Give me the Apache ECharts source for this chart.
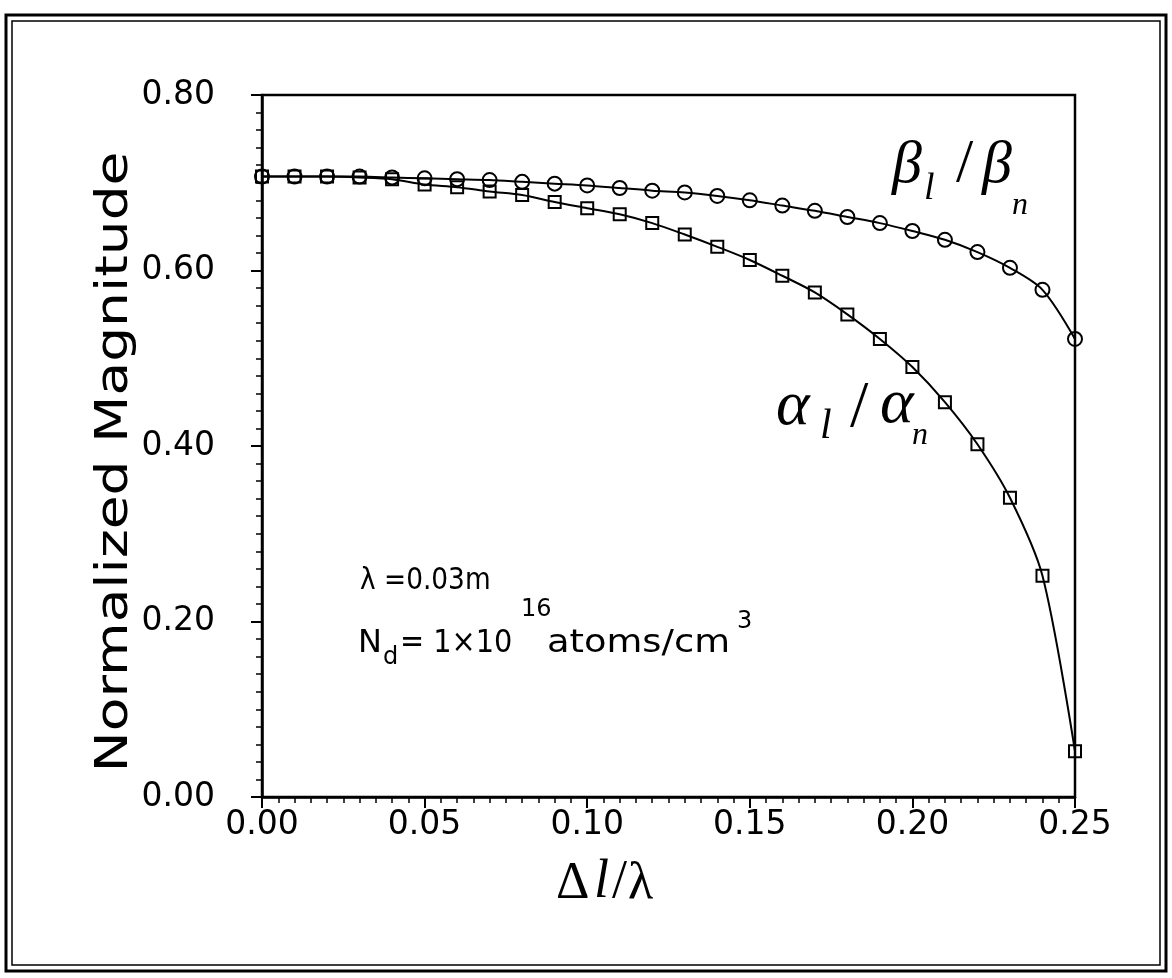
<!DOCTYPE html>
<html>
<head>
<meta charset="utf-8">
<script src="https://cdn.jsdelivr.net/npm/echarts@6/dist/echarts.min.js"></script>
<style>
  html, body { margin: 0; padding: 0; background: #fff; }
  #main { width: 1172px; height: 978px; }
</style>
</head>
<body>
<div id="main"></div>
<script>
// delta l / lambda
var xValues = [0.00, 0.01, 0.02, 0.03, 0.04, 0.05, 0.06, 0.07, 0.08, 0.09,
  0.10, 0.11, 0.12, 0.13, 0.14, 0.15, 0.16, 0.17, 0.18, 0.19,
  0.20, 0.21, 0.22, 0.23, 0.24, 0.25]
// beta_l / beta_n (circles)
var betaValues = [0.707, 0.707, 0.707, 0.707, 0.706, 0.705, 0.704, 0.703, 0.701, 0.699,
  0.697, 0.694, 0.691, 0.689, 0.685, 0.680, 0.674, 0.668, 0.661, 0.654,
  0.645, 0.635, 0.621, 0.603, 0.578, 0.522]
// alpha_l / alpha_n (squares)
var alphaValues = [0.707, 0.707, 0.707, 0.706, 0.704, 0.698, 0.695, 0.690, 0.686, 0.678,
  0.671, 0.664, 0.654, 0.641, 0.627, 0.612, 0.594, 0.575, 0.550, 0.522,
  0.490, 0.450, 0.402, 0.341, 0.252, 0.052]
var yTicks = [0, 0.2, 0.4, 0.6, 0.8]
var xTicks = [0, 0.05, 0.1, 0.15, 0.2, 0.25]

function pairs (xs, ys) {
  var out = []
  for (var i = 0; i < xs.length; i++) {
    out.push([xs[i], ys[i]])
  }
  return out
}

// text whose bottom edge sits at y
function txt (x, y, text, font, sx) {
  return {
    type: 'text',
    x: x,
    y: y,
    scaleX: sx || 1,
    style: {
      text: text,
      font: font,
      fill: '#000',
      textAlign: 'left',
      textVerticalAlign: 'bottom'
    }
  }
}

var sans = '"DejaVu Sans", sans-serif'
var serif = '"Liberation Serif", serif'

var chart = echarts.init(document.getElementById('main'))
var option = {
  backgroundColor: '#fff',
  animation: false,
  grid: {
    left: 262,
    right: 97,
    top: 95,
    bottom: 181,
    show: true,
    borderColor: '#000',
    borderWidth: 2.5
  },
  xAxis: {
    type: 'value',
    min: xTicks[0],
    max: xTicks[xTicks.length - 1],
    interval: 0.05,
    axisLine: { lineStyle: { color: '#000', width: 2.5 } },
    axisTick: { show: true, length: 11, lineStyle: { color: '#000', width: 2 } },
    minorTick: { show: true, splitNumber: 10, length: 6, lineStyle: { color: '#000', width: 1.5 } },
    splitLine: { show: false },
    axisLabel: {
      color: '#000',
      fontFamily: sans,
      fontSize: 33,
      margin: 12,
      formatter: function (v) { return v.toFixed(2) }
    }
  },
  yAxis: {
    type: 'value',
    min: yTicks[0],
    max: yTicks[yTicks.length - 1],
    interval: 0.2,
    axisLine: { show: true, lineStyle: { color: '#000', width: 2.5 } },
    axisTick: { show: true, length: 11, lineStyle: { color: '#000', width: 2 } },
    minorTick: { show: true, splitNumber: 10, length: 6, lineStyle: { color: '#000', width: 1.5 } },
    splitLine: { show: false },
    axisLabel: {
      color: '#000',
      fontFamily: sans,
      fontSize: 33,
      margin: 47,
      formatter: function (v) { return v.toFixed(2) }
    }
  },
  series: [
    {
      name: 'beta',
      type: 'line',
      data: pairs(xValues, betaValues),
      smooth: 0.3,
      symbol: 'circle',
      symbolSize: 14,
      showAllSymbol: true,
      lineStyle: { color: '#000', width: 2 },
      itemStyle: { color: 'rgba(0,0,0,0)', borderColor: '#000', borderWidth: 2 },
      z: 3
    },
    {
      name: 'alpha',
      type: 'line',
      data: pairs(xValues, alphaValues),
      smooth: 0.3,
      symbol: 'rect',
      symbolSize: 12,
      showAllSymbol: true,
      lineStyle: { color: '#000', width: 2 },
      itemStyle: { color: 'rgba(0,0,0,0)', borderColor: '#000', borderWidth: 2 },
      z: 2
    }
  ],
  graphic: [
    // double frame round the figure
    { type: 'rect', shape: { x: 6, y: 15, width: 1160, height: 956 }, style: { fill: 'none', stroke: '#000', lineWidth: 3 } },
    { type: 'rect', shape: { x: 12, y: 21, width: 1148, height: 944 }, style: { fill: 'none', stroke: '#000', lineWidth: 1.5 } },
    // y axis title
    {
      type: 'text',
      x: 116,
      y: 462,
      rotation: Math.PI / 2,
      scaleX: 1.25,
      style: {
        text: 'Normalized Magnitude',
        font: '44px ' + sans,
        fill: '#000',
        textAlign: 'center',
        textVerticalAlign: 'middle'
      }
    },
    // x axis title
    txt(556, 910, '\u0394', '52px ' + serif),
    txt(594, 910, 'l', 'italic 54px ' + serif),
    txt(612, 910, '/', '54px ' + serif),
    txt(628, 910, '\u03bb', '52px ' + serif),
    // beta label
    txt(892, 196, '\u03b2', 'italic 60px ' + serif),
    txt(924, 208, 'l', 'italic 38px ' + serif),
    txt(956, 196, '/', '62px ' + serif),
    txt(982, 196, '\u03b2', 'italic 60px ' + serif),
    txt(1012, 222, 'n', 'italic 32px ' + serif),
    // alpha label
    txt(776, 439, '\u03b1', 'italic 64px ' + serif),
    txt(820, 448, 'l', 'italic 42px ' + serif),
    txt(850, 442, '/', '66px ' + serif),
    txt(880, 437, '\u03b1', 'italic 64px ' + serif),
    txt(912, 452, 'n', 'italic 32px ' + serif),
    // parameters
    txt(360, 596, '\u03bb =0.03m', '30px ' + sans, 0.88),
    txt(358, 660, 'N', '32px ' + sans),
    txt(383, 670, 'd', '24px ' + sans),
    txt(400, 660, '= 1\u00d710', '32px ' + sans, 0.9),
    txt(521, 622, '16', '24px ' + sans),
    txt(547, 660, 'atoms/cm', '32px ' + sans, 1.15),
    txt(737, 634, '3', '24px ' + sans)
  ]
}
chart.setOption(option)
</script>
</body>
</html>
